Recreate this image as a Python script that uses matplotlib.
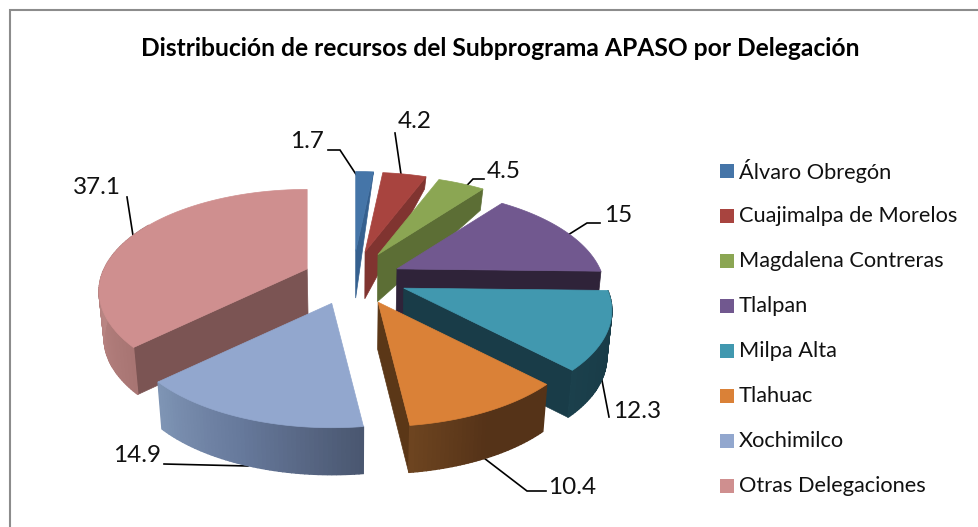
import numpy as np
import matplotlib
matplotlib.use("Agg")
import matplotlib.pyplot as plt
from matplotlib.patches import Polygon, Rectangle

title = "Distribución de recursos del Subprograma APASO por Delegación"
names = ["Álvaro Obregón", "Cuajimalpa de Morelos", "Magdalena Contreras", "Tlalpan",
         "Milpa Alta", "Tlahuac", "Xochimilco", "Otras Delegaciones"]
values = [1.7, 4.2, 4.5, 15, 12.3, 10.4, 14.9, 37.1]

top_colors = ["#4575a8", "#a8443f", "#8ba653", "#71588f", "#4198af", "#da8137", "#92a7ce", "#cf8f8f"]
cut_colors = ["#35608f", "#803430", "#5c6e35", "#2f2339", "#193c48", "#5b3717", "#5b3717", "#7b5453"]
# outer wall shade, start of the arc -> middle -> end of the arc
wall_shades = {4: ("#193c48", "#193c48", "#1b404c"),
               5: ("#553318", "#553318", "#6e4520"),
               6: ("#4a5770", "#66789a", "#7f95b5"),
               7: ("#a87573", "#b98583", "#a87a78")}

# pixel layout of the picture
cx, cy = 353, 279
rx, ry = 203, 97
persp = 0.22
explode_x, explode_y = 51, 28
depth = 47
draw_order = [0, 1, 2, 3, 4, 5, 7, 6]
# small per slice shifts, the original perspective is not quite this simple
nudge = [(0, 0), (0, 0), (0, 0), (-2, 2), (4, -2), (3, -2), (-4, -2), (1, 1)]

label_pos = [(307, 142), (415, 122), (504, 171), (618, 216), (637, 411), (572, 487), (137, 456), (97, 187)]
leaders = [[(328, 150), (340, 150), (363, 185)],
           [(395, 133), (403, 188)],
           [(484, 179), (473, 179), (457, 196)],
           [(600, 223), (587, 223), (560, 240)],
           [(609, 417), (600, 370)],
           [(546, 491), (527, 491), (480, 455)],
           [(164, 464), (248, 466)],
           [(127, 197), (134, 242)]]


def rim_point(theta, ax0, ay0):
    """Top point on the rim of a slice, theta clockwise from north in degrees."""
    u, v = np.sin(np.radians(theta)), np.cos(np.radians(theta))
    s = 1 / (1 + persp * v)
    return ax0 + rx * u * s, ay0 - ry * v * s


def lower(x, y, v):
    """Same point on the bottom face, depth shrinks toward the back."""
    h = depth * np.sqrt(np.clip(1 - v, 0, 1))
    return cx + (x - cx) * 0.98, y + h


def mix(c1, c2, t):
    a = np.array(matplotlib.colors.to_rgb(c1))
    b = np.array(matplotlib.colors.to_rgb(c2))
    return a + (b - a) * t


fig = plt.figure(figsize=(9.79, 5.27), dpi=100)
ax = fig.add_axes([0, 0, 1, 1])
ax.set_xlim(0, 979)
ax.set_ylim(527, 0)
ax.axis("off")
plt.rcParams["font.family"] = ["Lato", "DejaVu Sans"]

# chart frame, only top and left are inside the crop
ax.plot([10, 10, 979], [527, 10, 10], color="#8c8c8c", lw=1.5, solid_joinstyle="miter")

edges = np.cumsum([0] + values) / sum(values) * 360

for i in draw_order:
    start, end = edges[i], edges[i + 1]
    mid = (start + end) / 2
    ax0 = cx + explode_x * np.sin(np.radians(mid)) + nudge[i][0]
    ay0 = cy - explode_y * np.cos(np.radians(mid)) + nudge[i][1]

    # cut face
    edge = None
    if end < 180:
        edge = end
    elif start > 180:
        edge = start
    if edge is not None:
        x, y = rim_point(edge, ax0, ay0)
        xb, yb = lower(x, y, np.cos(np.radians(edge)))
        axb, ayb = lower(ax0, ay0, 0)
        ax.add_patch(Polygon([(ax0, ay0), (x, y), (xb, yb), (axb, ayb)], closed=True,
                             facecolor=cut_colors[i], edgecolor=cut_colors[i], lw=0.5))

    # outer wall, cut in thin strips to get the shading
    if i in wall_shades:
        a0 = max(start, 90)
        a1 = min(end, 300)
        steps = int(a1 - a0)
        grid = np.linspace(a0, a1, steps + 1)
        c0, c1, c2 = wall_shades[i]
        for k in range(steps):
            t = k / steps
            col = mix(c0, c1, t * 2) if t < 0.5 else mix(c1, c2, t * 2 - 1)
            x1, y1 = rim_point(grid[k], ax0, ay0)
            x2, y2 = rim_point(grid[k + 1], ax0, ay0)
            x3, y3 = lower(x2, y2, np.cos(np.radians(grid[k + 1])))
            x4, y4 = lower(x1, y1, np.cos(np.radians(grid[k])))
            ax.add_patch(Polygon([(x1, y1), (x2, y2), (x3, y3), (x4, y4)], closed=True,
                                 facecolor=col, edgecolor=col, lw=1))

    # top face
    arc = np.linspace(start, end, 60)
    pts = [(ax0, ay0)] + [rim_point(a, ax0, ay0) for a in arc]
    ax.add_patch(Polygon(pts, closed=True, facecolor=top_colors[i], edgecolor=top_colors[i], lw=0.5))

# leader lines go under the slices, value labels on top
for i, line in enumerate(leaders):
    ax.plot([p[0] for p in line], [p[1] for p in line], color="black", lw=1.2,
            solid_joinstyle="miter", zorder=0.5)
    ax.text(label_pos[i][0], label_pos[i][1], f"{values[i]:g}", fontsize=17.5, color="#111111",
            ha="center", va="center")

# legend
for i, name in enumerate(names):
    y = 171 + 45 * i
    ax.add_patch(Rectangle((720, y - 7), 14, 14, facecolor=top_colors[i], edgecolor="none"))
    ax.text(739, y, name, fontsize=15.7, color="#111111", ha="left", va="center")

ax.text(500, 48, title, fontsize=17.7, fontweight="bold", color="black", ha="center", va="center")

fig.savefig("out.png", dpi=100)
